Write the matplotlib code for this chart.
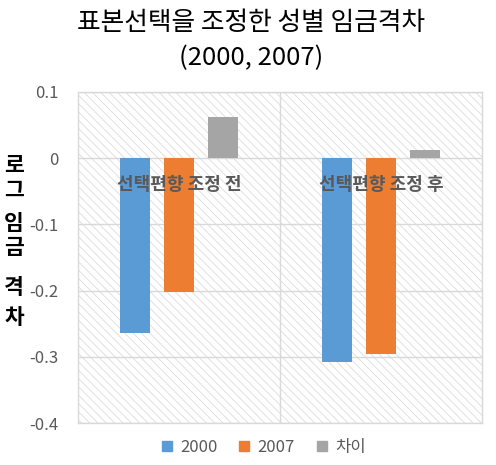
import numpy as np
import matplotlib.pyplot as plt
from matplotlib.patches import Rectangle
from matplotlib.lines import Line2D

plt.rcParams['font.family'] = ['Noto Sans CJK KR', 'DejaVu Sans']
plt.rcParams['axes.unicode_minus'] = False
plt.rcParams['hatch.linewidth'] = 0.6

categories = ['선택편향 조정 전', '선택편향 조정 후']
y2000 = [-0.264, -0.308]
y2007 = [-0.202, -0.296]
gap = [0.062, 0.012]
series_names = ['2000', '2007', '차이']
yticks = [0.1, 0, -0.1, -0.2, -0.3, -0.4]
ylabel_chars = ['로', '그', '임', '금', '격', '차']

blue = '#5B9BD5'
orange = '#ED7D31'
grey = '#A5A5A5'
txt = '#595959'

fig = plt.figure(figsize=(4.96, 4.65), dpi=100)
ax = fig.add_axes([78/496, 1-423/465, 404/496, 331/465])

# hatched plot area background
ax.add_patch(Rectangle((0, 0), 1, 1, transform=ax.transAxes, facecolor='white',
                       edgecolor='#dcdcdc', hatch='\\\\\\\\', linewidth=0, zorder=0))

x = np.arange(len(categories))
w = 0.153
off = 0.218
ax.bar(x - off, y2000, w, color=blue, zorder=3)
ax.bar(x, y2007, w, color=orange, zorder=3)
ax.bar(x + off, gap, w, color=grey, zorder=3)

ax.set_xlim(-0.5, 1.5)
ax.set_ylim(-0.4, 0.1)
ax.set_yticks(yticks)
ax.set_yticklabels([f'{round(v, 1):g}' for v in yticks], fontsize=12, color=txt)
ax.set_xticks([0.5])
ax.set_xticklabels([])
ax.tick_params(length=0, pad=14)
ax.grid(True, color='#d9d9d9', linewidth=1, zorder=1)
ax.set_axisbelow(True)
for s in ax.spines.values():
    s.set_color('#d9d9d9')
    s.set_linewidth(1)

for i, c in enumerate(categories):
    ax.text(i, -0.039, c, ha='center', va='center', fontsize=13,
            fontweight='bold', color=txt, zorder=5)

fig.text(251/496, 1-23/465, '표본선택을 조정한 성별 임금격차', ha='center', va='center',
         fontsize=18.5, color='black')
fig.text(251/496, 1-58/465, '(2000, 2007)', ha='center', va='center',
         fontsize=18.5, color='black')

ypos = [165, 190, 223, 248, 287, 317]
for ch, yp in zip(ylabel_chars, ypos):
    fig.text(14/496, 1-yp/465, ch, ha='center', va='center', fontsize=15.5,
             fontweight='bold', color='black')

handles = [Line2D([], [], marker='s', linestyle='none', markersize=7, color=c)
           for c in (blue, orange, grey)]
leg = fig.legend(handles, series_names, loc='center', ncol=3,
                 bbox_to_anchor=(263/496, 1-447/465), frameon=False,
                 fontsize=12, handlelength=0.8, handletextpad=0.4,
                 columnspacing=1.2)
for t in leg.get_texts():
    t.set_color(txt)

fig.savefig('out.png', dpi=100)
